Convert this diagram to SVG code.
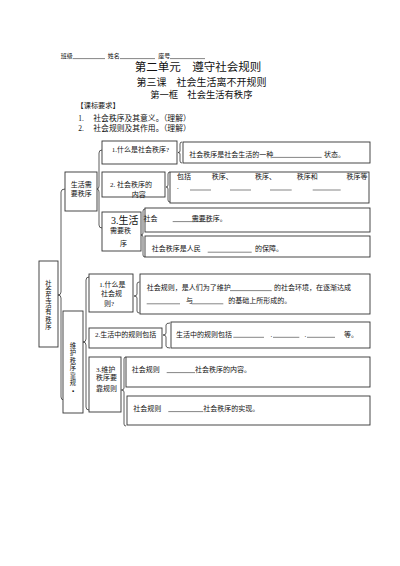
<svg xmlns="http://www.w3.org/2000/svg" width="400" height="566" viewBox="0 0 400 566">
<style>
text{font-family:"Liberation Serif","Noto Sans CJK SC",serif;fill:#111;}
.t{font-size:7px;}
.v{font-size:6.3px;}
.h{font-size:6px;}
.box{fill:#fff;stroke:#333;stroke-width:0.9;}
.br{fill:none;stroke:#333;stroke-width:0.8;}
.ul{stroke:#333;stroke-width:0.6;}
</style>
<rect width="400" height="566" fill="#fff"/>
<g id="header">
<text class="h" x="60.7" y="58">班级</text>
<line class="ul" x1="73" y1="58.6" x2="105" y2="58.6"/>
<text class="h" x="107.7" y="58">姓名</text>
<line class="ul" x1="120" y1="58.6" x2="155" y2="58.6"/>
<text class="h" x="158.3" y="58">座号</text>
<line class="ul" x1="170" y1="58.6" x2="205" y2="58.6"/>
<text x="198" y="71.3" font-size="11.5" text-anchor="middle">第二单元　遵守社会规则</text>
<text x="201.6" y="85.8" font-size="10" text-anchor="middle">第三课　社会生活离不开规则</text>
<text x="201.3" y="98.3" font-size="9.3" text-anchor="middle">第一框　社会生活有秩序</text>
<text x="76.5" y="107.6" font-size="7.2">【课标要求】</text>
<text x="78.3" y="121" font-size="7.5">1.</text>
<text x="93.3" y="121" font-size="7.8">社会秩序及其意义。（理解）</text>
<text x="78.3" y="131.3" font-size="7.5">2.</text>
<text x="93.3" y="131.3" font-size="7.8">社会规则及其作用。（理解）</text>
</g>
<g id="connectors">
<path class="br" d="M65,189 Q61,189 61,192 L61,292 Q61,295 58,295 Q61,295 61,298 L61,397 Q61,400 64,400"/>
<path class="br" d="M102,150 Q99,150 99,153 L99,186 Q99,189 97,189 Q99,189 99,192 L99,225 Q99,228 102,228"/>
<path class="br" d="M89,277 Q86,277 86,280 L86,339 Q86,342 83,342 Q86,342 86,345 L86,407 Q86,410 89,410"/>
<path class="br" d="M182,142 Q180,142 180,144 L180,151 Q180,152.5 178,152.5 Q180,152.5 180,154 L180,161 Q180,163 182,163"/>
<path class="br" d="M170,172 Q168,172 168,174 L168,185 Q168,187 166,187 Q168,187 168,189 L168,200 Q168,202 170,202"/>
<path class="br" d="M145,209 Q143,209 143,211 L143,233 Q143,235 141,235 Q143,235 143,237 L143,255 Q143,257 145,257"/>
<path class="br" d="M139.5,282 Q137,282 137,284 L137,294 Q137,296 134,296 Q137,296 137,298 L137,311 Q137,313 139.5,313"/>
<path class="br" d="M170,323 Q166,323 166,325 L166,333 Q166,335 163,335 Q166,335 166,337 L166,346 Q166,348 170,348"/>
<path class="br" d="M126,357 Q124,357 124,359 L124,388 Q124,390 121.5,390 Q124,390 124,392 L124,424 Q124,426 126,426"/>
</g>
<g id="n-shehui">
<rect class="box" x="39" y="261" width="19" height="86"/>
<text class="v" text-anchor="middle"><tspan x="48.5" y="285.5">社</tspan><tspan x="48.5" y="292.7">会</tspan><tspan x="48.5" y="299.9">生</tspan><tspan x="48.5" y="307.1">活</tspan><tspan x="48.5" y="314.3">有</tspan><tspan x="48.5" y="321.5">秩</tspan><tspan x="48.5" y="328.7">序</tspan></text>
</g>
<g id="n-shenghuo">
<rect class="box" x="65" y="172" width="32" height="39"/>
<text class="t" x="70.7" y="186.8">生活需</text>
<text class="t" x="70.7" y="195.8">要秩序</text>
</g>
<g id="n-weihu">
<rect class="box" x="63" y="311" width="20" height="102"/>
<text class="v" text-anchor="middle"><tspan x="73" y="347.5">维</tspan><tspan x="73" y="355">护</tspan><tspan x="73" y="362.5">秩</tspan><tspan x="73" y="370">序</tspan><tspan x="73" y="377.5">靠</tspan><tspan x="73" y="385">规</tspan><tspan x="73" y="392.5">▪</tspan></text>
</g>
<g id="n-d1">
<rect class="box" x="102" y="141" width="75" height="23"/>
<text class="t" x="111.7" y="151.8">1.什么是社会秩序?</text>
</g>
<g id="n-e1">
<rect class="box" x="183" y="142" width="187" height="21"/>
<text class="t" x="189.3" y="156.5">社会秩序是社会生活的一种</text>
<line class="ul" x1="271.7" y1="157.4" x2="321.7" y2="157.4"/>
<text class="t" x="324" y="156.5">状态。</text>
</g>
<g id="n-d2">
<rect class="box" x="102" y="172" width="63" height="25"/>
<text class="t" x="110" y="186.5">2. 社会秩序的</text>
<text class="t" x="131.7" y="196.5">内容</text>
</g>
<g id="n-e2">
<rect class="box" x="170" y="172" width="199" height="31"/>
<text class="t" x="177" y="179.2">包括</text>
<text class="t" x="211.7" y="179.2">秩序、</text>
<text class="t" x="255" y="179.2">秩序、</text>
<text class="t" x="296.7" y="179.2">秩序和</text>
<text class="t" x="346.5" y="179.2">秩序等</text>
<text class="t" x="177" y="189">.</text>
<line class="ul" x1="190" y1="190" x2="211" y2="190"/>
<line class="ul" x1="230" y1="190" x2="251" y2="190"/>
<line class="ul" x1="270" y1="190" x2="291.7" y2="190"/>
<line class="ul" x1="312.7" y1="190" x2="340.7" y2="190"/>
</g>
<g id="n-d3">
<rect class="box" x="102" y="212" width="39" height="39"/>
<text x="111" y="223.5" font-size="10">3.生活</text>
<text class="t" x="110" y="233">需要秩</text>
<text class="t" x="120" y="245.6">序</text>
</g>
<g id="n-e3a">
<rect class="box" x="145" y="208" width="225" height="24"/>
<text class="t" x="143.5" y="220.7">社会</text>
<line class="ul" x1="172.7" y1="221.6" x2="210.7" y2="221.6"/>
<text class="t" x="191.7" y="220.7">需要秩序。</text>
</g>
<g id="n-e3b">
<rect class="box" x="145" y="236" width="225" height="21"/>
<text class="t" x="151.7" y="251.4">社会秩序是人民</text>
<line class="ul" x1="207.7" y1="252.2" x2="251.7" y2="252.2"/>
<text class="t" x="255" y="251.4">的保障。</text>
</g>
<g id="n-f1">
<rect class="box" x="89" y="274" width="44" height="38"/>
<text class="t" x="99.3" y="286.5">1.什么是</text>
<text class="t" x="101" y="296.4">社会规</text>
<text class="t" x="104" y="306.4">则?</text>
</g>
<g id="n-g1">
<rect class="box" x="140" y="274" width="230" height="40"/>
<text class="t" x="146.7" y="289.8">社会规则，是人们为了维护</text>
<line class="ul" x1="230" y1="290.6" x2="271.7" y2="290.6"/>
<text class="t" x="274" y="289.8">的社会环境，在逐渐达成</text>
<line class="ul" x1="146.7" y1="303.8" x2="180" y2="303.8"/>
<text class="t" x="186" y="303.2">与</text>
<line class="ul" x1="191.7" y1="303.8" x2="223.3" y2="303.8"/>
<text class="t" x="228.3" y="303.2">的基础上所形成的。</text>
</g>
<g id="n-f2">
<rect class="box" x="89" y="328" width="73" height="20"/>
<text class="t" x="95" y="337.4">2.生活中的规则包括</text>
</g>
<g id="n-g2">
<rect class="box" x="171" y="322" width="199" height="26"/>
<text class="t" x="176" y="336.5">生活中的规则包括</text>
<line class="ul" x1="233.3" y1="337.3" x2="264" y2="337.3"/>
<text class="t" x="270.5" y="336.5">.</text>
<line class="ul" x1="273" y1="337.3" x2="299.3" y2="337.3"/>
<text class="t" x="304.5" y="336.5">.</text>
<line class="ul" x1="307" y1="337.3" x2="335" y2="337.3"/>
<text class="t" x="344" y="336.5">等。</text>
</g>
<g id="n-f3">
<rect class="box" x="89" y="357" width="32" height="55"/>
<text class="t" x="96" y="371.5">3.维护</text>
<text class="t" x="96" y="379.5">秩序要</text>
<text class="t" x="96" y="390.5">靠规则</text>
</g>
<g id="n-g3a">
<rect class="box" x="126" y="357" width="244" height="30"/>
<text class="t" x="131.7" y="371.8">社会规则</text>
<line class="ul" x1="166.7" y1="372.6" x2="195" y2="372.6"/>
<text class="t" x="195" y="371.8">社会秩序的内容。</text>
</g>
<g id="n-g3b">
<rect class="box" x="127" y="396" width="243" height="29"/>
<text class="t" x="133.3" y="410.8">社会规则</text>
<line class="ul" x1="168.3" y1="411.6" x2="203.3" y2="411.6"/>
<text class="t" x="203.3" y="410.8">社会秩序的实现。</text>
</g>
</svg>
